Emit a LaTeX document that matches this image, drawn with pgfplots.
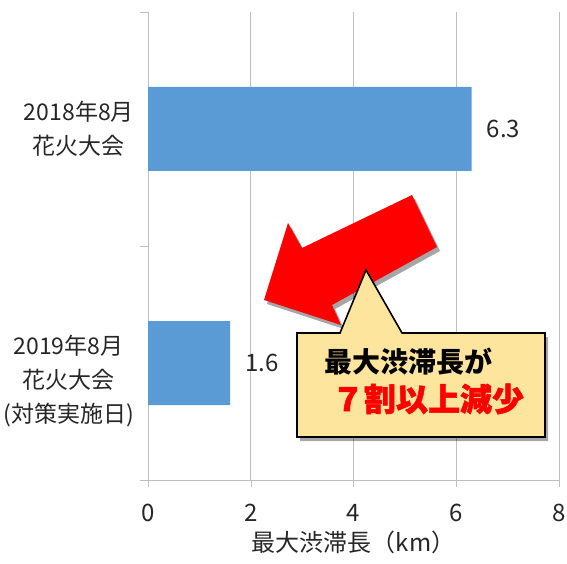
\documentclass[border=0pt]{standalone}
\usepackage{fontspec}
\setmainfont{Noto Sans CJK JP}
\newfontfamily\heavyfont[BoldFeatures={FakeBold=1.5}]{Noto Sans CJK JP}
\usepackage{pgfplots}
\pgfplotsset{compat=1.18}
\usetikzlibrary{shadows}
\definecolor{barblue}{HTML}{5B9BD5}
\definecolor{gridgray}{HTML}{BFBFBF}
\definecolor{calloutfill}{HTML}{FDE59D}
\definecolor{txt}{HTML}{262626}
\begin{document}
\fontsize{21}{31}\selectfont
\begin{tikzpicture}
\useasboundingbox (0,0) rectangle (567pt,563pt);
\begin{axis}[
  at={(148pt,83pt)}, anchor=south west,
  width=411pt, height=468pt, scale only axis,
  xbar, bar width=84pt,
  xmin=0, xmax=8, ymin=-0.5, ymax=1.5,
  axis lines=left, axis line style={draw=gridgray, -},
  xtick={0,2,4,6,8}, xmajorgrids, grid style={draw=gridgray, line width=0.8pt},
  ytick={-0.075,1},
  yticklabels={{2019年8月\\花火大会\\(対策実施日)},{2018年8月\\花火大会}},
  yticklabel style={align=center, text=txt, font=\fontsize{23}{34}\selectfont},
  xticklabel style={text=txt, font=\fontsize{24}{31}\selectfont, yshift=-10pt},
  minor ytick={-0.5,0.5,1.5},
  tick align=outside,
  major tick length=7pt, minor tick length=8pt,
  major x tick style={draw=gridgray},
  major y tick style={draw=none},
  minor y tick style={draw=gridgray},
  /pgf/number format/assume math mode=true,
  xlabel={最大渋滞長（km）},
  xlabel style={text=txt, font=\fontsize{24}{28}\selectfont, yshift=-1pt, inner sep=1pt},
  nodes near coords,
  every node near coord/.append style={text=txt, font=\fontsize{24}{31}\selectfont, xshift=8pt},
]
\addplot[fill=barblue, draw=none] coordinates {(1.6,0) (6.3,1)};
\end{axis}
% red arrow
\fill[red, drop shadow={shadow xshift=3pt, shadow yshift=-4pt, opacity=0.35, fill=black}]
  (264pt,263pt) -- (288pt,340pt) -- (302pt,315pt) -- (412pt,368pt) -- (437pt,316pt)
  -- (332pt,258pt) -- (341pt,238pt) -- cycle;
% callout
\filldraw[fill=calloutfill, draw=black, line width=1.6pt, line join=miter,
  drop shadow={shadow xshift=3pt, shadow yshift=-4pt, opacity=0.35, fill=black}]
  (297pt,126pt) -- (297pt,230pt) -- (340pt,230pt) -- (366pt,293pt) -- (402pt,230pt)
  -- (545pt,230pt) -- (545pt,126pt) -- cycle;
\node[font=\fontsize{28}{30}\selectfont\bfseries, text=black] at (408pt,201pt) {最大渋滞長が};
\node[font=\heavyfont\fontsize{32}{34}\selectfont\bfseries, text=red] at (428pt,164pt) {７割以上減少};
\end{tikzpicture}
\end{document}
